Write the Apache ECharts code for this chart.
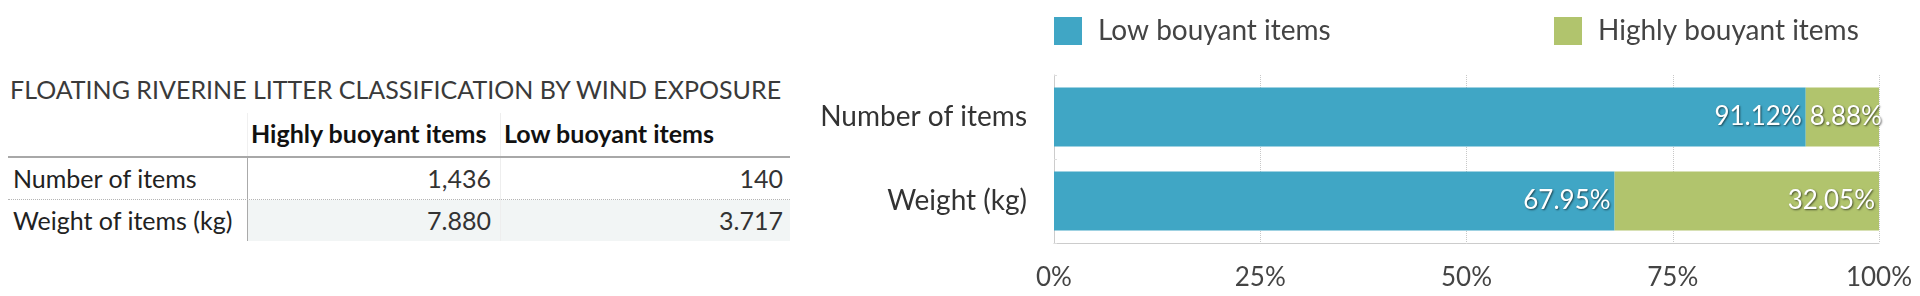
<!DOCTYPE html>
<html>
<head>
<meta charset="utf-8">
<script src="https://cdn.jsdelivr.net/npm/echarts@6/dist/echarts.min.js"></script>
<style>
  html, body { margin: 0; padding: 0; background: #fff; width: 1920px; height: 296px; overflow: hidden; font-family: Lato, "Open Sans", sans-serif; }
  #table { position: absolute; left: 0; top: 0; width: 800px; height: 296px; }
  #chart { position: absolute; left: 800px; top: 0; width: 1120px; height: 296px; }
  .t { position: absolute; white-space: nowrap; }
  .title { left: 10px; top: 74px; font-size: 25px; line-height: 30px; color: #3a3a3a; }
  .hdr { font-size: 25px; font-weight: 700; color: #111; line-height: 44px; top: 111px; }
  .cell { font-size: 25px; line-height: 42px; color: #222; }
  .num { color: #333; text-align: right; }
  .ln { position: absolute; }
</style>
</head>
<body>
<div id="table"></div>
<div id="chart"></div>
<script>
// ---- data ----
const tableTitle = 'FLOATING RIVERINE LITTER CLASSIFICATION BY WIND EXPOSURE';
const tableColumns = ['Highly buoyant items', 'Low buoyant items'];
const tableRows = ['Number of items', 'Weight of items (kg)'];
const highlyBuoyantValues = ['1,436', '7.880'];
const lowBuoyantValues = ['140', '3.717'];

const categories = ['Number of items', 'Weight (kg)'];
const lowBouyantShare = [91.12, 67.95];
const highlyBouyantShare = [8.88, 32.05];
const xTicks = [0, 25, 50, 75, 100];

// ---- table ----
(function buildTable() {
  const el = document.getElementById('table');
  const colX = [10, 247, 500, 790];
  const rowY = [157, 199, 241];
  let html = '';
  html += '<div class="t title">' + tableTitle + '</div>';
  html += '<div class="ln" style="left:248px;top:200px;width:542px;height:41px;background:#f2f5f5"></div>';
  html += '<div class="ln" style="left:247px;top:113px;width:1px;height:44px;background:#f0f0f0"></div>';
  html += '<div class="ln" style="left:500px;top:113px;width:1px;height:128px;background:#eeeeee"></div>';
  html += '<div class="ln" style="left:8px;top:156px;width:782px;height:0;border-top:2px solid #a8a8a8"></div>';
  html += '<div class="ln" style="left:247px;top:157px;width:0;height:84px;border-left:1px solid #aaaaaa"></div>';
  html += '<div class="ln" style="left:8px;top:199px;width:782px;height:0;border-top:1px dotted #b5b5b5"></div>';
  tableColumns.forEach((c, i) => {
    html += '<div class="t hdr" style="left:' + (colX[i + 1] + 4) + 'px">' + c + '</div>';
  });
  tableRows.forEach((r, i) => {
    const top = rowY[i];
    html += '<div class="t cell" style="left:13px;top:' + top + 'px">' + r + '</div>';
    html += '<div class="t cell num" style="left:' + colX[1] + 'px;width:' + (colX[2] - colX[1] - 9) + 'px;top:' + top + 'px">' + highlyBuoyantValues[i] + '</div>';
    html += '<div class="t cell num" style="left:' + colX[2] + 'px;width:' + (colX[3] - colX[2] - 7) + 'px;top:' + top + 'px">' + lowBuoyantValues[i] + '</div>';
  });
  el.innerHTML = html;
})();

// ---- chart ----
const chart = echarts.init(document.getElementById('chart'));
const labelStyle = {
  show: true,
  position: 'insideRight',
  distance: 4,
  formatter: '{c}%',
  color: '#ffffff',
  fontFamily: 'Lato',
  fontWeight: 400,
  fontSize: 26,
  textShadowColor: 'rgba(0,0,0,0.6)',
  textShadowBlur: 2,
  textShadowOffsetX: 1,
  textShadowOffsetY: 1
};
// narrow segments put their label from the left edge so it reads outward
const toItems = arr => arr.map(v => v < 15 ? { value: v, label: { position: 'insideLeft' } } : v);
const legendText = { fontFamily: 'Lato', fontWeight: 400, fontSize: 28, color: '#444', padding: [0, 0, 0, 11] };
chart.setOption({
  animation: false,
  legend: [
    { data: ['Low bouyant items'], left: 254, top: 17, padding: 0, itemWidth: 28, itemHeight: 28, icon: 'rect', textStyle: legendText, selectedMode: false },
    { data: ['Highly bouyant items'], left: 754, top: 17, padding: 0, itemWidth: 28, itemHeight: 28, icon: 'rect', textStyle: legendText, selectedMode: false }
  ],
  grid: { left: 254, right: 41, top: 75, height: 168, containLabel: false },
  xAxis: {
    type: 'value', min: 0, max: 100, interval: 25,
    axisLine: { show: true, lineStyle: { color: '#cccccc', width: 1 } },
    axisTick: { show: false },
    splitLine: { show: true, lineStyle: { color: '#c8c8c8', type: 'dotted', width: 1 } },
    axisLabel: { formatter: v => v + '%', fontFamily: 'Lato', fontSize: 26, color: '#444', margin: 22,
      customValues: xTicks }
  },
  yAxis: {
    type: 'category', data: categories, inverse: true,
    axisLine: { show: true, lineStyle: { color: '#cccccc' } },
    axisTick: { show: true, inside: true, length: 3, lineStyle: { color: '#dddddd' } },
    axisLabel: { fontFamily: 'Lato', fontSize: 28, color: '#333', margin: 27 }
  },
  series: [
    { name: 'Low bouyant items', type: 'bar', stack: 'total', data: toItems(lowBouyantShare), barCategoryGap: '30%',
      itemStyle: { color: '#40a6c5' }, label: labelStyle },
    { name: 'Highly bouyant items', type: 'bar', stack: 'total', data: toItems(highlyBouyantShare),
      itemStyle: { color: '#b1c46d' }, label: labelStyle }
  ]
});
</script>
</body>
</html>
